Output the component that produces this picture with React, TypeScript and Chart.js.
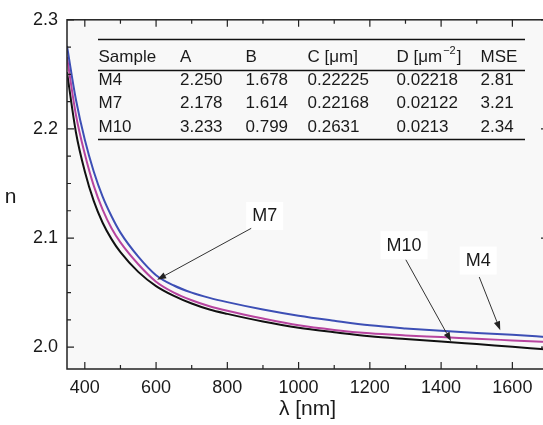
import React, { useEffect, useRef } from 'react';
import { Chart, registerables } from 'chart.js';

Chart.register(...registerables);

// ---- data ----
const WAVELENGTHS = [350, 375, 400, 425, 450, 475, 500, 550, 600, 650, 700, 750, 800, 900, 1000, 1100, 1200, 1300, 1400, 1500, 1600, 1700];
const N_M4 = [2.276, 2.227, 2.190, 2.161, 2.138, 2.120, 2.105, 2.083, 2.066, 2.0565, 2.050, 2.0452, 2.0413, 2.0345, 2.0288, 2.0242, 2.0200, 2.0172, 2.0150, 2.0131, 2.0114, 2.0092];
const N_M7 = [2.266, 2.213, 2.177, 2.148, 2.126, 2.109, 2.096, 2.076, 2.060, 2.050, 2.043, 2.0375, 2.0333, 2.0262, 2.0200, 2.0158, 2.0127, 2.0108, 2.0093, 2.0077, 2.0062, 2.0047];
const N_M10 = [2.252, 2.197, 2.161, 2.134, 2.114, 2.099, 2.087, 2.069, 2.056, 2.047, 2.040, 2.0345, 2.0305, 2.0235, 2.0178, 2.0137, 2.0100, 2.0075, 2.0053, 2.0028, 2.0003, 1.9978];

const X_TICKS = [400, 600, 800, 1000, 1200, 1400, 1600];
const X_MINOR_TICKS = [400, 500, 600, 700, 800, 900, 1000, 1100, 1200, 1300, 1400, 1500, 1600, 1700];
const Y_TICKS = [2.0, 2.1, 2.2, 2.3];
const Y_TICK_LABELS = ['2.0', '2.1', '2.2', '2.3'];
const Y_MINOR_TICKS = [2.0, 2.025, 2.05, 2.075, 2.1, 2.125, 2.15, 2.175, 2.2, 2.225, 2.25, 2.275, 2.3];

const TABLE_HEADERS = ['Sample', 'A', 'B', 'C [μm]', 'D [μm', 'MSE'];
const TABLE_SAMPLES = ['M4', 'M7', 'M10'];
const TABLE_A = ['2.250', '2.178', '3.233'];
const TABLE_B = ['1.678', '1.614', '0.799'];
const TABLE_C = ['0.22225', '0.22168', '0.2631'];
const TABLE_D = ['0.02218', '0.02122', '0.0213'];
const TABLE_MSE = ['2.81', '3.21', '2.34'];

const LABEL_TEXT = ['M7', 'M10', 'M4'];
const LABEL_X = [905, 1296, 1504];
const LABEL_Y = [2.1202, 2.0935, 2.0794];
const ARROW_FROM_X = [867, 1301, 1507];
const ARROW_FROM_Y = [2.1089, 2.0801, 2.0643];
const ARROW_TO_X = [603, 1428, 1566];
const ARROW_TO_Y = [2.0618, 2.0054, 2.0155];

const FONT = (s: number) => `${s}px "Liberation Sans", Arial, Helvetica, sans-serif`;
const TEXT_COLOR = '#1a1a1a';
const AXIS_COLOR = '#222222';

export default function App() {
  const ref = useRef<HTMLCanvasElement>(null);

  useEffect(() => {
    document.body.style.overflow = 'hidden';
    const canvas = ref.current!;

    const decor = {
      id: 'decor',
      beforeDraw(chart: any) {
        const { ctx, chartArea: a, width, height } = chart;
        ctx.save();
        ctx.fillStyle = '#ffffff';
        ctx.fillRect(0, 0, width, height);
        ctx.fillStyle = '#f8f8f8';
        ctx.fillRect(a.left, a.top, a.right - a.left, a.bottom - a.top);
        ctx.restore();
      },
      afterDatasetsDraw(chart: any) {
        const { ctx, chartArea: a } = chart;
        const xs = chart.scales.x;
        const ys = chart.scales.y;
        ctx.save();

        // frame
        ctx.strokeStyle = AXIS_COLOR;
        ctx.lineWidth = 1.5;
        ctx.strokeRect(a.left, a.top, a.right - a.left, a.bottom - a.top);

        // ticks (inward)
        ctx.lineWidth = 1.2;
        ctx.beginPath();
        X_MINOR_TICKS.forEach((v) => {
          const px = xs.getPixelForValue(v);
          const len = X_TICKS.includes(v) ? 7 : 4;
          ctx.moveTo(px, a.bottom);
          ctx.lineTo(px, a.bottom - len);
          ctx.moveTo(px, a.top);
          ctx.lineTo(px, a.top + len);
        });
        Y_MINOR_TICKS.forEach((v) => {
          const py = ys.getPixelForValue(v);
          const major = Y_TICKS.some((t) => Math.abs(t - v) < 1e-9);
          const len = major ? 7 : 4;
          ctx.moveTo(a.left, py);
          ctx.lineTo(a.left + len, py);
          ctx.moveTo(a.right, py);
          ctx.lineTo(a.right - len, py);
        });
        ctx.stroke();

        // table
        const tx = [98.5, 180, 245.5, 307.5, 396.5, 480.5];
        const ruleX0 = 98, ruleX1 = 525;
        ctx.lineWidth = 1.5;
        ctx.strokeStyle = '#111';
        ctx.beginPath();
        [39.5, 70.5, 139.5].forEach((y) => {
          ctx.moveTo(ruleX0, y);
          ctx.lineTo(ruleX1, y);
        });
        ctx.stroke();
        ctx.fillStyle = TEXT_COLOR;
        ctx.textAlign = 'left';
        ctx.textBaseline = 'alphabetic';
        TABLE_HEADERS.forEach((h, i) => {
          ctx.font = FONT(17);
          ctx.fillText(h, tx[i], 61.5);
          if (i === 4) {
            const w = ctx.measureText(h).width;
            ctx.font = FONT(11);
            ctx.fillText('−2', tx[i] + w + 1, 54);
            const w2 = ctx.measureText('−2').width;
            ctx.font = FONT(17);
            ctx.fillText(']', tx[i] + w + w2 + 2, 61.5);
          }
        });
        ctx.font = FONT(17);
        const cols = [TABLE_SAMPLES, TABLE_A, TABLE_B, TABLE_C, TABLE_D, TABLE_MSE];
        const rowY = [85, 108.3, 131.7];
        TABLE_SAMPLES.forEach((_, r) => {
          cols.forEach((c, i) => ctx.fillText(c[r], tx[i], rowY[r]));
        });

        // annotations
        ctx.font = FONT(18);
        ctx.textAlign = 'center';
        ctx.textBaseline = 'middle';
        LABEL_TEXT.forEach((t, i) => {
          const lx = xs.getPixelForValue(LABEL_X[i]);
          const ly = ys.getPixelForValue(LABEL_Y[i]);
          const w = ctx.measureText(t).width;
          ctx.fillStyle = '#ffffff';
          ctx.fillRect(lx - w / 2 - 6, ly - 14, w + 12, 28);
          ctx.fillStyle = TEXT_COLOR;
          ctx.fillText(t, lx, ly + 0.5);
        });
        ctx.strokeStyle = '#333';
        ctx.fillStyle = '#222';
        ctx.lineWidth = 1;
        LABEL_TEXT.forEach((_, i) => {
          const x0 = xs.getPixelForValue(ARROW_FROM_X[i]);
          const y0 = ys.getPixelForValue(ARROW_FROM_Y[i]);
          const x1 = xs.getPixelForValue(ARROW_TO_X[i]);
          const y1 = ys.getPixelForValue(ARROW_TO_Y[i]);
          const ang = Math.atan2(y1 - y0, x1 - x0);
          const hl = 9, hw = 3.2;
          const bx = x1 - hl * Math.cos(ang), by = y1 - hl * Math.sin(ang);
          ctx.beginPath();
          ctx.moveTo(x0, y0);
          ctx.lineTo(bx, by);
          ctx.stroke();
          ctx.beginPath();
          ctx.moveTo(x1, y1);
          ctx.lineTo(bx + hw * Math.sin(ang), by - hw * Math.cos(ang));
          ctx.lineTo(bx - hw * Math.sin(ang), by + hw * Math.cos(ang));
          ctx.closePath();
          ctx.fill();
        });

        // axis titles
        ctx.fillStyle = TEXT_COLOR;
        ctx.textBaseline = 'alphabetic';
        ctx.textAlign = 'center';
        ctx.font = FONT(21);
        ctx.fillText('λ [nm]', (a.left + a.right) / 2, a.bottom + 45.5);
        ctx.fillText('n', 10.5, 202.5);
        ctx.restore();
      },
    };

    const mk = (ys: number[]) => WAVELENGTHS.map((x, i) => ({ x, y: ys[i] }));

    const chart = new Chart(canvas, {
      type: 'line',
      data: {
        datasets: [
          { label: 'M4', data: mk(N_M4), borderColor: '#3d4fb5', borderWidth: 2, pointRadius: 0, cubicInterpolationMode: 'monotone', fill: false },
          { label: 'M7', data: mk(N_M7), borderColor: '#b7449f', borderWidth: 2, pointRadius: 0, cubicInterpolationMode: 'monotone', fill: false },
          { label: 'M10', data: mk(N_M10), borderColor: '#111111', borderWidth: 2, pointRadius: 0, cubicInterpolationMode: 'monotone', fill: false },
        ],
      },
      options: {
        responsive: false,
        animation: false,
        events: [],
        layout: { padding: { left: 0, top: 16, right: 12, bottom: 0 } },
        plugins: { legend: { display: false }, tooltip: { enabled: false }, title: { display: false } },
        scales: {
          x: {
            type: 'linear',
            min: 350,
            max: 1700,
            grid: { display: false, drawTicks: false },
            border: { display: false },
            afterBuildTicks: (s: any) => { s.ticks = X_TICKS.map((v) => ({ value: v })); },
            afterFit: (s: any) => { s.height = 56; },
            ticks: {
              autoSkip: false,
              maxRotation: 0,
              padding: 8,
              color: TEXT_COLOR,
              font: { family: '"Liberation Sans", Arial, sans-serif', size: 18 },
              callback: (v: any) => String(v),
            },
          },
          y: {
            type: 'linear',
            min: 1.98,
            max: 2.3,
            grid: { display: false, drawTicks: false },
            border: { display: false },
            afterBuildTicks: (s: any) => { s.ticks = Y_TICKS.map((v) => ({ value: v })); },
            afterFit: (s: any) => { s.width = 67; },
            ticks: {
              autoSkip: false,
              padding: 9,
              color: TEXT_COLOR,
              font: { family: '"Liberation Sans", Arial, sans-serif', size: 18 },
              callback: (_v: any, i: number) => Y_TICK_LABELS[i],
            },
          },
        },
      },
      plugins: [decor],
    } as any);

    return () => chart.destroy();
  }, []);

  return (
    <div style={{ position: 'absolute', left: 0, top: 0, width: 560, height: 425 }}>
      <canvas ref={ref} width={560} height={425} style={{ display: 'block', width: 560, height: 425 }} />
    </div>
  );
}
